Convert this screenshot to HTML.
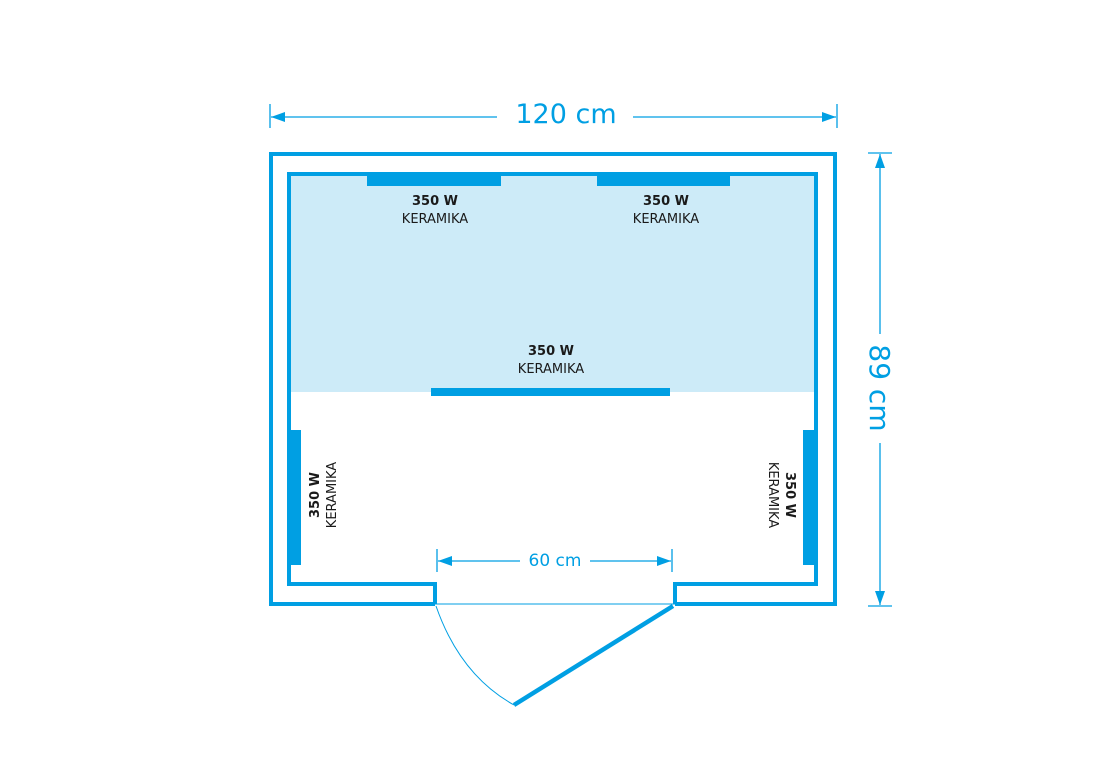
<!DOCTYPE html>
<html><head><meta charset="utf-8"><style>
html,body{margin:0;padding:0;background:#fff;}
svg{display:block;}
text{font-family:"DejaVu Sans","Liberation Sans",sans-serif;}
</style></head><body>
<svg width="1110" height="780" viewBox="0 0 1110 780" xmlns="http://www.w3.org/2000/svg">
<defs>
<marker id="ar" markerWidth="14" markerHeight="10" refX="14" refY="5" orient="auto" markerUnits="userSpaceOnUse">
<path d="M0,0 L14,5 L0,10 Z" fill="#009fe3"/></marker>
</defs>
<!-- light fill -->
<rect x="289" y="174" width="527" height="218" fill="#cdebf8"/>
<!-- walls -->
<g fill="none" stroke="#009fe3" stroke-width="4" stroke-linejoin="miter">
<path d="M435,604 L271,604 L271,154 L835,154 L835,604 L675,604"/>
<path d="M435,604 L435,584 L289,584 L289,174 L816,174 L816,584 L675,584 L675,604"/>
</g>
<line x1="435" y1="604" x2="675" y2="604" stroke="#009fe3" stroke-width="1"/>
<!-- door -->
<line x1="673" y1="606" x2="514" y2="705" stroke="#009fe3" stroke-width="4.5"/>
<path d="M436,606 Q460,675 514,705" fill="none" stroke="#009fe3" stroke-width="1"/>
<!-- heaters -->
<g fill="#009fe3">
<rect x="367" y="173" width="134" height="13"/>
<rect x="597" y="173" width="133" height="13"/>
<rect x="431" y="388" width="239" height="8"/>
<rect x="287" y="430" width="14" height="135"/>
<rect x="803" y="430" width="15" height="135"/>
</g>
<!-- heater labels -->
<g fill="#1a1a1a" font-size="13" text-anchor="middle">
<text x="435" y="205" font-weight="bold">350 W</text>
<text x="435" y="223">KERAMIKA</text>
<text x="666" y="205" font-weight="bold">350 W</text>
<text x="666" y="223">KERAMIKA</text>
<text x="551" y="355" font-weight="bold">350 W</text>
<text x="551" y="373">KERAMIKA</text>
<g transform="translate(319,495) rotate(-90)"><text x="0" y="0" font-weight="bold">350 W</text><text x="0" y="17">KERAMIKA</text></g>
<g transform="translate(786,495) rotate(90)"><text x="0" y="0" font-weight="bold">350 W</text><text x="0" y="17">KERAMIKA</text></g>
</g>
<!-- dimensions -->
<g stroke="#009fe3" stroke-width="1.3" fill="none">
<line x1="270" y1="104" x2="270" y2="128"/>
<line x1="837" y1="104" x2="837" y2="128"/>
<line x1="497" y1="117" x2="271" y2="117" marker-end="url(#ar)"/>
<line x1="633" y1="117" x2="836" y2="117" marker-end="url(#ar)"/>
<line x1="868" y1="153" x2="892" y2="153"/>
<line x1="868" y1="606" x2="892" y2="606"/>
<line x1="880" y1="334" x2="880" y2="154" marker-end="url(#ar)"/>
<line x1="880" y1="443" x2="880" y2="605" marker-end="url(#ar)"/>
<line x1="437" y1="549" x2="437" y2="572"/>
<line x1="672" y1="549" x2="672" y2="572"/>
<line x1="520" y1="561" x2="438" y2="561" marker-end="url(#ar)"/>
<line x1="590" y1="561" x2="671" y2="561" marker-end="url(#ar)"/>
</g>
<g fill="#009fe3" text-anchor="middle">
<text x="566" y="123" font-size="27">120 cm</text>
<text x="555" y="566" font-size="17">60 cm</text>
<text transform="translate(870,388) rotate(90)" x="0" y="0" font-size="28">89 cm</text>
</g>
</svg>
</body></html>
